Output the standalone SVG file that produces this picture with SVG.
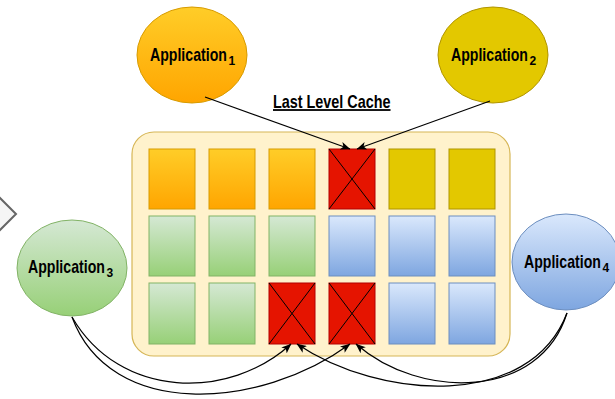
<svg xmlns="http://www.w3.org/2000/svg" width="615" height="399" viewBox="0 0 615 399">
  <defs>
    <linearGradient id="gOrange" x1="0" y1="0" x2="0" y2="1">
      <stop offset="0" stop-color="#ffcd28"/>
      <stop offset="1" stop-color="#ffa500"/>
    </linearGradient>
    <linearGradient id="gGreen" x1="0" y1="0" x2="0" y2="1">
      <stop offset="0" stop-color="#d5e8d4"/>
      <stop offset="1" stop-color="#97d077"/>
    </linearGradient>
    <linearGradient id="gBlue" x1="0" y1="0" x2="0" y2="1">
      <stop offset="0" stop-color="#dae8fc"/>
      <stop offset="1" stop-color="#7ea6e0"/>
    </linearGradient>
    <marker id="arrow" viewBox="0 0 10 8" refX="9.5" refY="4" markerWidth="10" markerHeight="8" markerUnits="userSpaceOnUse" orient="auto">
      <path d="M0,0 L10,4 L0,8 L2.5,4 Z" fill="#000"/>
    </marker>
  </defs>
  <style>
    .label { font-family: "Liberation Sans", Arial, sans-serif; font-weight: bold; font-size: 18px; fill: #000; }
    .sub { font-family: "Liberation Sans", Arial, sans-serif; font-weight: bold; font-size: 12px; fill: #000; }
    .orange { fill: url(#gOrange); stroke: #d79b00; stroke-width: 1; }
    .yellow { fill: #e3c800; stroke: #b09500; stroke-width: 1; }
    .green { fill: url(#gGreen); stroke: #82b366; stroke-width: 1; }
    .blue { fill: url(#gBlue); stroke: #6c8ebf; stroke-width: 1; }
    .red { fill: #e51400; stroke: #b20000; stroke-width: 1; }
    .cross { stroke: #000; stroke-width: 1; fill: none; }
    .edge { fill: none; stroke: #000; stroke-width: 1.2; marker-end: url(#arrow); }
  </style>

  <!-- partial chevron shape at the left border -->
  <polygon points="-16,182 16,214 -16,246" fill="#f5f5f5" stroke="#666666" stroke-width="2"/>

  <!-- cache container -->
  <g id="cache">
    <rect x="132" y="132" width="378" height="224" rx="22" ry="22" fill="#fff2cc" stroke="#d6b656" stroke-width="1.2"/>
    <g transform="translate(273,108) scale(0.8,1)">
      <text class="label" x="0" y="0" text-decoration="underline">Last Level Cache</text>
    </g>
  </g>

  <!-- cache lines -->
  <g id="cells">
    <!-- row 1 -->
    <rect class="orange" x="149" y="149" width="46" height="60"/>
    <rect class="orange" x="209" y="149" width="46" height="60"/>
    <rect class="orange" x="269" y="149" width="46" height="60"/>
    <g id="conflict1">
      <rect class="red" x="329" y="149" width="46" height="60"/>
      <path class="cross" d="M329,149 L375,209 M375,149 L329,209"/>
    </g>
    <rect class="yellow" x="389" y="149" width="46" height="60"/>
    <rect class="yellow" x="449" y="149" width="46" height="60"/>

    <!-- row 2 -->
    <rect class="green" x="149" y="216" width="46" height="60"/>
    <rect class="green" x="209" y="216" width="46" height="60"/>
    <rect class="green" x="269" y="216" width="46" height="60"/>
    <rect class="blue" x="329" y="216" width="46" height="60"/>
    <rect class="blue" x="389" y="216" width="46" height="60"/>
    <rect class="blue" x="449" y="216" width="46" height="60"/>

    <!-- row 3 -->
    <rect class="green" x="149" y="283" width="46" height="61"/>
    <rect class="green" x="209" y="283" width="46" height="61"/>
    <g id="conflict2">
      <rect class="red" x="269" y="283" width="46" height="61"/>
      <path class="cross" d="M269,283 L315,344 M315,283 L269,344"/>
    </g>
    <g id="conflict3">
      <rect class="red" x="329" y="283" width="46" height="61"/>
      <path class="cross" d="M329,283 L375,344 M375,283 L329,344"/>
    </g>
    <rect class="blue" x="389" y="283" width="46" height="61"/>
    <rect class="blue" x="449" y="283" width="46" height="61"/>
  </g>

  <!-- applications -->
  <g id="app1">
    <ellipse cx="192" cy="55" rx="55" ry="48" class="orange"/>
    <g transform="translate(150,61) scale(0.785,1)"><text class="label" x="0" y="0">Application</text></g>
    <text class="sub" x="228.5" y="65">1</text>
  </g>
  <g id="app2">
    <ellipse cx="493" cy="55" rx="55" ry="48" class="yellow"/>
    <g transform="translate(451,61) scale(0.785,1)"><text class="label" x="0" y="0">Application</text></g>
    <text class="sub" x="529.5" y="65">2</text>
  </g>
  <g id="app3">
    <ellipse cx="72" cy="268" rx="55" ry="48" class="green"/>
    <g transform="translate(28,273) scale(0.785,1)"><text class="label" x="0" y="0">Application</text></g>
    <text class="sub" x="106.5" y="277">3</text>
  </g>
  <g id="app4">
    <ellipse cx="566" cy="262" rx="54" ry="48" class="blue"/>
    <g transform="translate(524,268) scale(0.785,1)"><text class="label" x="0" y="0">Application</text></g>
    <text class="sub" x="602.5" y="272">4</text>
  </g>

  <!-- connectors -->
  <g id="connectors">
    <path class="edge" d="M205,97 L350,149"/>
    <path class="edge" d="M490,101 L357,149"/>
    <path class="edge" d="M72,317 C120,400 230,400 291,344"/>
    <path class="edge" d="M72,317 C110,420 260,410 350,344"/>
    <path class="edge" d="M567,313 C530,410 380,400 297,344"/>
    <path class="edge" d="M567,313 C540,400 420,400 356,344"/>
  </g>
</svg>
